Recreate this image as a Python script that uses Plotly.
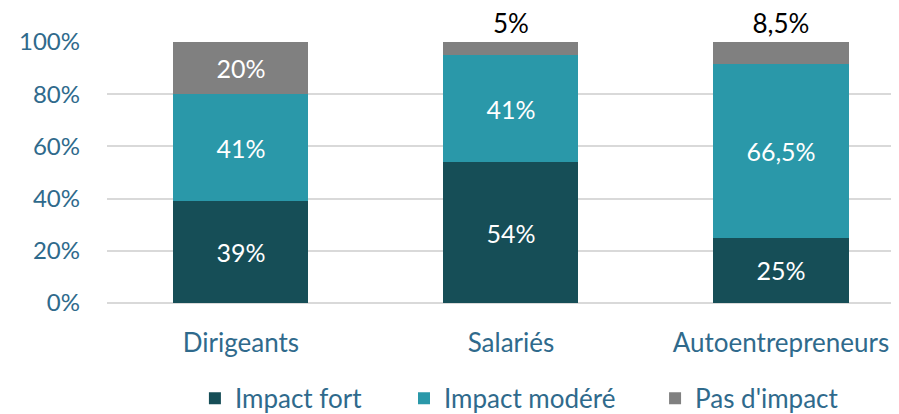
import plotly.graph_objects as go

# catégories et valeurs (%)
categories = ["Dirigeants", "Salariés", "Autoentrepreneurs"]
impact_fort = [39, 54, 25]
impact_modere = [41, 41, 66.5]
pas_impact = [20, 5, 8.5]

labels_fort = ["39%", "54%", "25%"]
labels_modere = ["41%", "41%", "66,5%"]
labels_pas = ["20%", "5%", "8,5%"]

y_ticks = [0, 20, 40, 60, 80, 100]
y_ticktext = ["0%", "20%", "40%", "60%", "80%", "100%"]

font_name = "Lato, Open Sans, sans-serif"
axis_color = "#2F6A8C"

fig = go.Figure()

fig.add_trace(go.Bar(
    x=categories, y=impact_fort, name="Impact fort",
    marker=dict(color="#164E57", line=dict(width=0)),
    text=labels_fort, textposition="inside", insidetextanchor="middle",
    insidetextfont=dict(color="white", size=25, family=font_name),
    legend="legend2",
))
fig.add_trace(go.Bar(
    x=categories, y=impact_modere, name="Impact modéré",
    marker=dict(color="#2A98A9", line=dict(width=0)),
    text=labels_modere, textposition="inside", insidetextanchor="middle",
    insidetextfont=dict(color="white", size=25, family=font_name),
    legend="legend3",
))
fig.add_trace(go.Bar(
    x=categories, y=pas_impact, name="Pas d'impact",
    marker=dict(color="#808080", line=dict(width=0)),
    text=labels_pas, textposition=["inside", "outside", "outside"],
    insidetextanchor="middle", cliponaxis=False,
    insidetextfont=dict(color="white", size=25, family=font_name),
    outsidetextfont=dict(color="black", size=26, family=font_name),
    legend="legend4",
))

leg = dict(orientation="h", y=-0.275, yanchor="top", xanchor="left",
           font=dict(size=26, color=axis_color), bgcolor="rgba(0,0,0,0)")

fig.update_layout(
    barmode="stack",
    bargap=0.5,
    width=891, height=406,
    margin=dict(l=99, r=0, t=34, b=111, autoexpand=False),
    plot_bgcolor="white", paper_bgcolor="white",
    font=dict(family=font_name, size=24, color=axis_color),
    uniformtext=dict(mode=False),
    legend2=dict(leg, x=0.111),
    legend3=dict(leg, x=0.375),
    legend4=dict(leg, x=0.692),
)
fig.update_yaxes(
    range=[0, 100], tickvals=y_ticks, ticktext=y_ticktext,
    showgrid=True, gridcolor="#D9D9D9", gridwidth=1.5,
    zeroline=True, zerolinecolor="#D9D9D9", zerolinewidth=1.5,
    tickfont=dict(size=24, color=axis_color), ticks="", ticklabelstandoff=26,
    automargin=False,
)
fig.update_xaxes(
    range=[-0.496, 2.437],
    tickfont=dict(size=26, color=axis_color), showline=False,
    ticklabelstandoff=22, automargin=False,
)

fig.write_html("out.html")
